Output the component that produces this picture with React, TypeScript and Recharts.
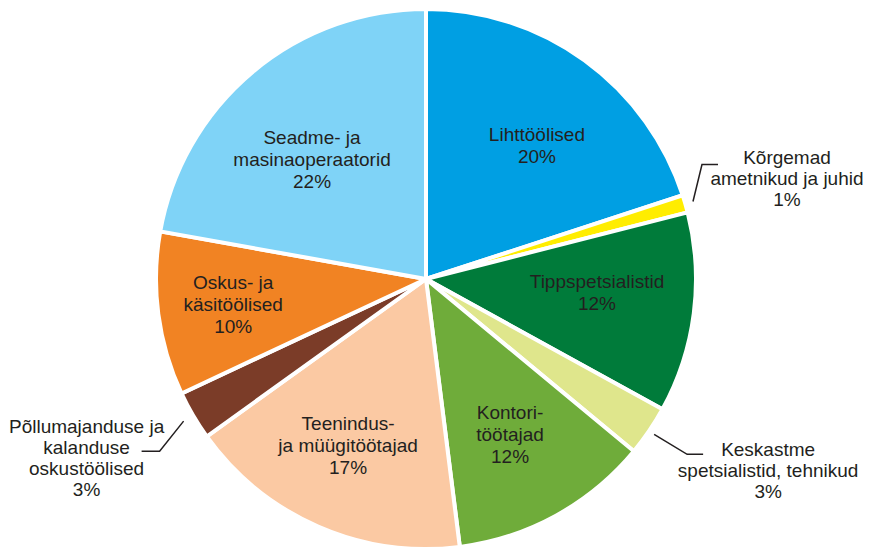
import { Pie, PieChart, Cell } from 'recharts';

// ametirühmade jaotus (%), päripäeva alates kella 12-st
const groups = [
  'Lihttöölised',
  'Kõrgemad ametnikud ja juhid',
  'Tippspetsialistid',
  'Keskastme spetsialistid, tehnikud',
  'Kontoritöötajad',
  'Teenindus- ja müügitöötajad',
  'Põllumajanduse ja kalanduse oskustöölised',
  'Oskus- ja käsitöölised',
  'Seadme- ja masinaoperaatorid',
];
const shares = [20.0, 1.05, 12.0, 3.0, 12.0, 17.1, 2.95, 9.8, 22.2];
const shareLabels = ['20%', '1%', '12%', '3%', '12%', '17%', '3%', '10%', '22%'];
// kuidas nimi slaidil ridadeks jaguneb
const nameLines = [
  ['Lihttöölised'],
  ['Kõrgemad', 'ametnikud ja juhid'],
  ['Tippspetsialistid'],
  ['Keskastme', 'spetsialistid, tehnikud'],
  ['Kontori-', 'töötajad'],
  ['Teenindus-', 'ja müügitöötajad'],
  ['Põllumajanduse ja', 'kalanduse', 'oskustöölised'],
  ['Oskus- ja', 'käsitöölised'],
  ['Seadme- ja', 'masinaoperaatorid'],
];

const colors = [
  '#009fe3',
  '#ffed00',
  '#007b3a',
  '#dfe68c',
  '#6fac3a',
  '#fbc9a3',
  '#7b3c28',
  '#f18323',
  '#7fd3f7',
];

// label layout: inside labels use radius factor + angle nudge, outside ones a leader line
type Inside = { kind: 'in'; r: number; da: number };
type Outside = {
  kind: 'out';
  gap: number;
  elbow: [number, number];
  run: number;
  tx: number;
  ty: number;
};
const labelLayout: (Inside | Outside)[] = [
  { kind: 'in', r: 0.645, da: -3.6 },
  { kind: 'out', gap: 8, elbow: [9, -37], run: 16, tx: 69, ty: -8 },
  { kind: 'in', r: 0.635, da: 3.1 },
  { kind: 'out', gap: 6, elbow: [33, 20], run: 16, tx: 65, ty: -5 },
  { kind: 'in', r: 0.653, da: -0.3 },
  { kind: 'in', r: 0.679, da: -1.6 },
  { kind: 'out', gap: 11, elbow: [-24, 30], run: -18, tx: -55, ty: -25 },
  { kind: 'in', r: 0.72, da: -0.1 },
  { kind: 'in', r: 0.613, da: 3.6 },
];

const data = groups.map((name, i) => ({ name, value: shares[i] }));

const RAD = Math.PI / 180;
const TEXT = '#231f20';
const FONT = 19;

function renderLabel(props: any) {
  const { cx, cy, midAngle, outerRadius, index } = props;
  const lines = [...nameLines[index], shareLabels[index]];
  const lay = labelLayout[index];
  if (lay.kind === 'in') {
    const lh = 22;
    const a = (midAngle + lay.da) * RAD;
    const x = cx + outerRadius * lay.r * Math.cos(a);
    const y = cy - outerRadius * lay.r * Math.sin(a);
    const y0 = y - ((lines.length - 1) * lh) / 2;
    return (
      <text x={x} y={y0} textAnchor="middle" dominantBaseline="central" fill={TEXT} fontSize={FONT}>
        {lines.map((l, i) => (
          <tspan key={i} x={x} y={y0 + i * lh}>
            {l}
          </tspan>
        ))}
      </text>
    );
  }
  const lh = 21;
  const a = midAngle * RAD;
  const sx = cx + (outerRadius + lay.gap) * Math.cos(a);
  const sy = cy - (outerRadius + lay.gap) * Math.sin(a);
  const ex = sx + lay.elbow[0];
  const ey = sy + lay.elbow[1];
  const hx = ex + lay.run;
  const tx = hx + lay.tx;
  const ty = ey + lay.ty;
  return (
    <g>
      <polyline
        points={`${sx},${sy} ${ex},${ey} ${hx},${ey}`}
        fill="none"
        stroke={TEXT}
        strokeWidth={1.5}
      />
      <text x={tx} y={ty} textAnchor="middle" dominantBaseline="central" fill={TEXT} fontSize={FONT}>
        {lines.map((l, i) => (
          <tspan key={i} x={tx} y={ty + i * lh}>
            {l}
          </tspan>
        ))}
      </text>
    </g>
  );
}

export default function App() {
  return (
    <div
      style={{
        position: 'absolute',
        left: 0,
        top: 0,
        width: 869,
        height: 549,
        background: '#fff',
        fontFamily: '"Liberation Sans", Arial, sans-serif',
      }}
    >
      <PieChart width={869} height={549} margin={{ top: 0, right: 0, bottom: 0, left: 0 }}>
        <Pie
          data={data}
          dataKey="value"
          nameKey="name"
          cx={426}
          cy={279}
          outerRadius={270}
          startAngle={90}
          endAngle={-270}
          stroke="#ffffff"
          strokeWidth={4}
          label={renderLabel}
          labelLine={false}
          isAnimationActive={false}
        >
          {data.map((d, i) => (
            <Cell key={d.name} fill={colors[i]} />
          ))}
        </Pie>
      </PieChart>
    </div>
  );
}
